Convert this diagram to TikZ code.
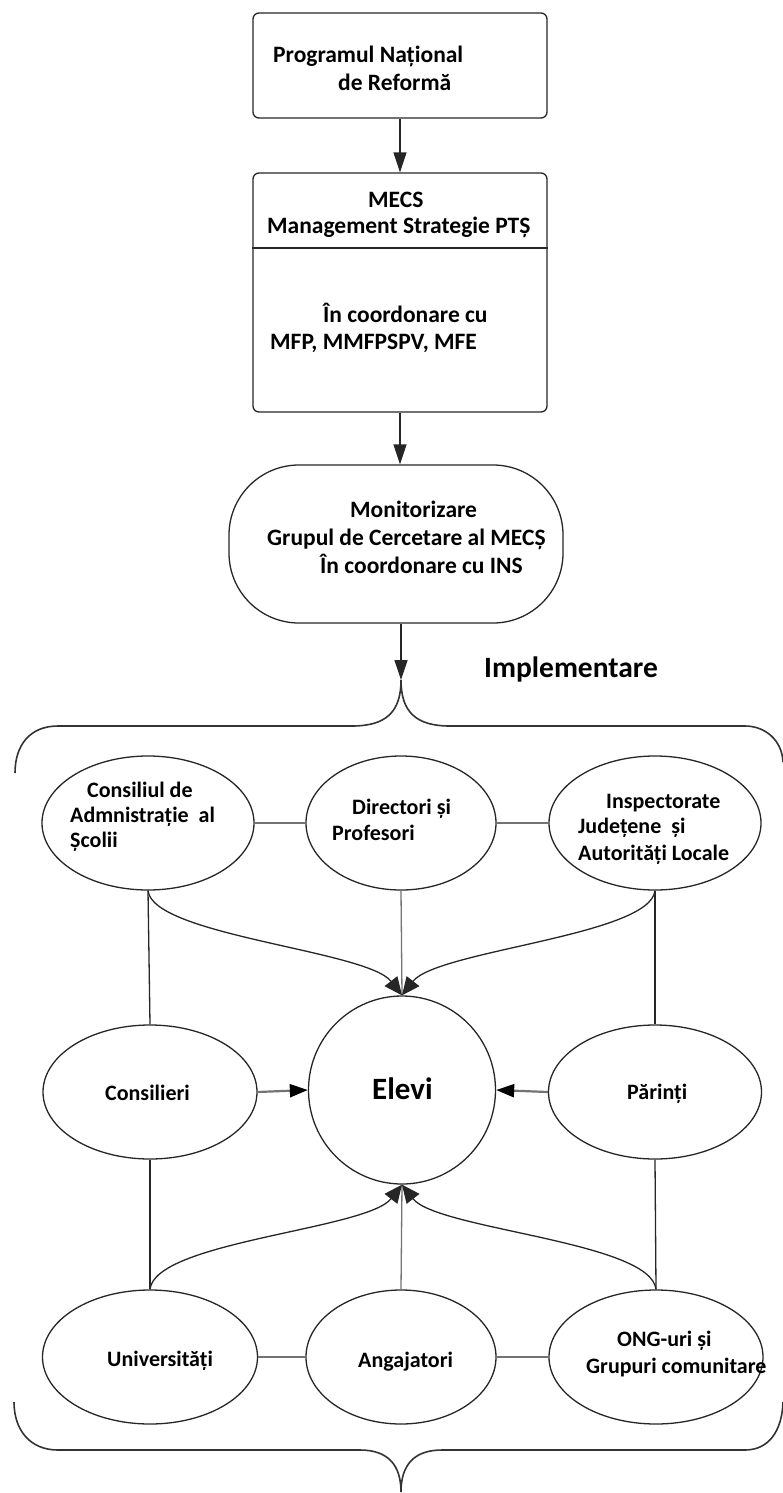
\documentclass[tikz,border=0pt]{standalone}
\usepackage{fontspec}
\setmainfont{Carlito}
\usetikzlibrary{arrows.meta,shapes.geometric}
\begin{document}
\begin{tikzpicture}[x=1pt,y=-1pt,
  outl/.style={draw=black!85, line width=1.3pt},
  boxnode/.style={outl, rectangle, rounded corners=6pt, minimum width=294pt, inner sep=0pt},
  ell/.style={outl, ellipse, minimum height=134pt, inner sep=0pt},
  txt/.style={anchor=base west, inner sep=0pt, text=black, font=\bfseries\fontsize{23.5}{28}\selectfont},
  etxt/.style={anchor=base west, inner sep=0pt, text=black, font=\bfseries\fontsize{22}{26}\selectfont},
  arr/.style={draw=black!85, line width=1.3pt, -{Triangle[width=13pt,length=20pt]}},
  sidearr/.style={draw=black!55, line width=2.2pt, -{Triangle[width=13pt,length=18pt,color=black]}},
  curvearr/.style={draw=black!85, line width=1.3pt, -{Triangle[width=16pt,length=18pt]}},
  link/.style={draw=black!55, line width=2.2pt},
  vlink/.style={draw=black!85, line width=1.3pt},
  glink/.style={draw=black!55, line width=1.3pt},
  bracel/.style={draw=black!80, line width=1.6pt}
]
\useasboundingbox (0,0) rectangle (782,1493);

% top boxes
\node[boxnode, minimum height=105pt] (pnr) at (400,65.5) {};
\node[boxnode, minimum height=239pt] (mecs) at (400,292.5) {};
\coordinate (div) at (400,248);
\draw[outl] (mecs.west |- div) -- (mecs.east |- div);
\node[outl, rectangle, rounded corners=70pt, minimum width=334pt, minimum height=158pt, inner sep=0pt] (mon) at (396,544) {};

\node[txt] (t1) at (273,63) {Programul Național};
\node[txt] (t2) at (338,91) {de Reformă};
\node[txt] (t3) at (368,207) {MECS};
\node[txt] (t4) at (267,233) {Management Strategie PTȘ};
\node[txt] (t5) at (323,322) {În coordonare cu};
\node[txt] (t6) at (270,349) {MFP, MMFPSPV, MFE};
\node[txt] (t7) at (350,517) {Monitorizare};
\node[txt] (t8) at (267,545) {Grupul de Cercetare al MECȘ};
\node[txt] (t9) at (320,573) {În coordonare cu INS};
\node[txt, font=\bfseries\fontsize{29.5}{33}\selectfont] (impl) at (484,677) {Implementare};

\draw[arr] (pnr.south) -- (mecs.north);
\draw[arr] (mecs.south) -- (mecs.south |- mon.north);

% top brace
\coordinate (apex) at (401,680);
\draw[arr] (apex |- mon.south) -- (apex);
\draw[bracel] (15,773) .. controls (15,745) and (30,726) .. (58,726) -- (352,726)
  .. controls (386,726) and (401,712) .. (apex)
  .. controls (401,712) and (416,726) .. (450,726) -- (745,726)
  .. controls (765,726) and (782,740) .. (783,762);

% bottom brace
\coordinate (bapex) at (401,1492);
\draw[bracel] (14,1402) .. controls (14,1430) and (30,1450) .. (58,1450) -- (360,1450)
  .. controls (388,1450) and (401,1465) .. (bapex)
  .. controls (401,1465) and (414,1450) .. (442,1450) -- (745,1450)
  .. controls (768,1450) and (782,1432) .. (783,1402);

% ellipses
\node[ell, minimum width=212pt] (cons) at (148,823) {};
\node[ell, minimum width=190pt] (dir) at (401,823) {};
\node[ell, minimum width=212pt] (insp) at (655,823) {};
\node[ell, minimum width=214pt] (cslr) at (150,1092) {};
\node[ell, minimum width=187pt, minimum height=188pt] (elevi) at (402,1090) {};
\node[ell, minimum width=213pt] (par) at (655,1092) {};
\node[ell, minimum width=215pt] (univ) at (150,1357) {};
\node[ell, minimum width=190pt] (ang) at (401,1357) {};
\node[ell, minimum width=214pt] (ong) at (656,1357) {};

% ellipse texts
\node[etxt] (c1) at (87,797) {Consiliul de};
\node[etxt] (c2) at (70,822) {Admnistrație\ \ al};
\node[etxt] (c3) at (70,847) {Școlii};
\node[etxt] (d1) at (352,814) {Directori și};
\node[etxt] (d2) at (332,840) {Profesori};
\node[etxt] (i1) at (606,808) {Inspectorate};
\node[etxt] (i2) at (578,833) {Județene\ \ și};
\node[etxt] (i3) at (578,860) {Autorități Locale};
\node[etxt] (s1) at (105,1100) {Consilieri};
\node[etxt, font=\bfseries\fontsize{31}{34}\selectfont] (e1) at (372,1099) {Elevi};
\node[etxt] (p1) at (627,1099) {Părinți};
\node[etxt] (u1) at (107,1366) {Universități};
\node[etxt] (a1) at (358,1367) {Angajatori};
\node[etxt] (o1) at (617,1346) {ONG-uri și};
\node[etxt] (o2) at (586,1373) {Grupuri comunitare};

% links
\draw[link] (cons.east) -- (dir.west);
\draw[link] (dir.east) -- (insp.west);
\draw[link] (univ.east) -- (ang.west);
\draw[link] (ang.east) -- (ong.west);
\draw[vlink] (cons.south) -- (cslr.north);
\draw[vlink] (cslr.south) -- (univ.north);
\draw[vlink] (insp.south) -- (par.north);
\draw[vlink] (par.south) -- (ong.north);
\draw[glink] (dir.south) -- (elevi.north);
\draw[glink] (ang.north) -- (elevi.south);
\draw[sidearr] (cslr.east) -- (elevi.west);
\draw[sidearr] (par.west) -- (elevi.east);
\draw[curvearr] (cons.south) .. controls +(5,45) and +(-35,-45) .. (elevi.north);
\draw[curvearr] (insp.south) .. controls +(-5,45) and +(35,-45) .. (elevi.north);
\draw[curvearr] (univ.north) .. controls +(5,-48) and +(-35,45) .. (elevi.south);
\draw[curvearr] (ong.north) .. controls +(-5,-48) and +(35,45) .. (elevi.south);
\end{tikzpicture}
\end{document}
